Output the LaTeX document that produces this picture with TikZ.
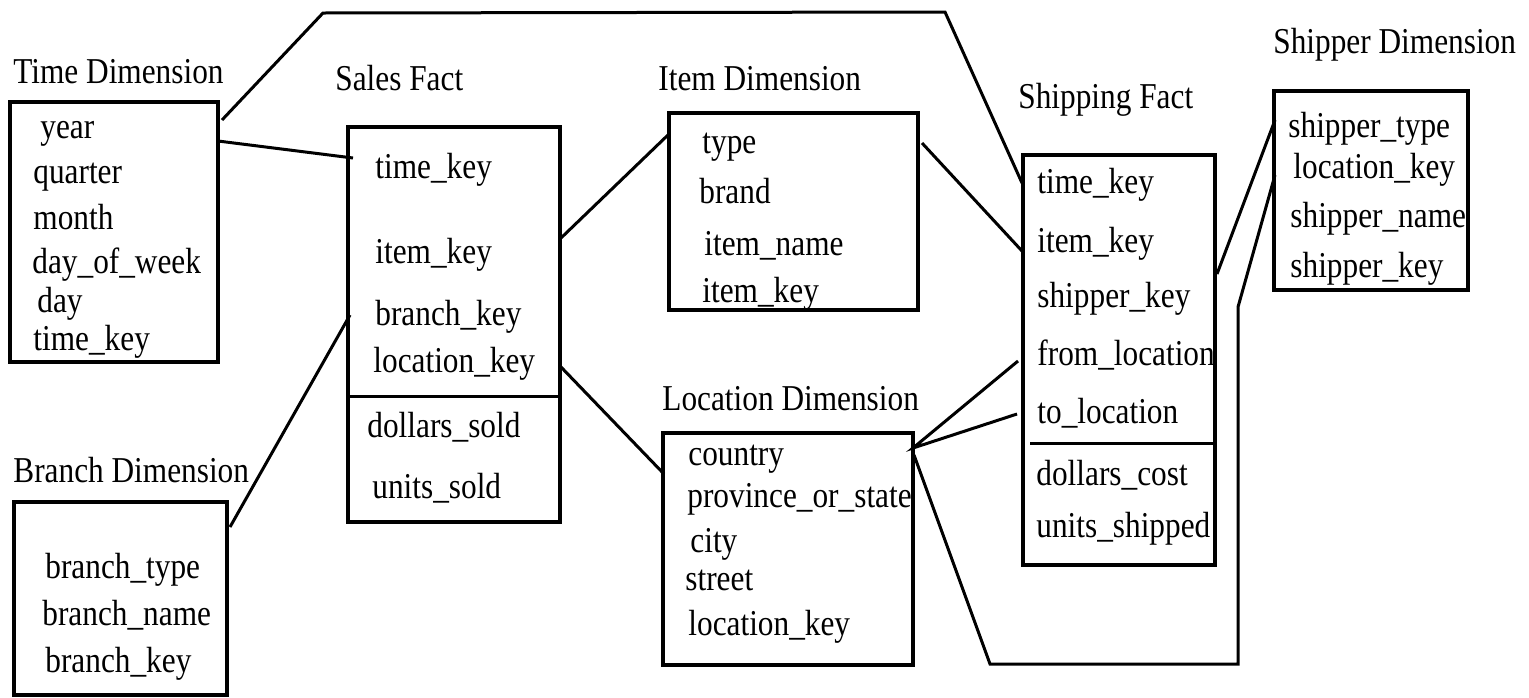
\documentclass[tikz,border=0pt]{standalone}
\usepackage{fontspec}
\setmainfont[FakeStretch=0.86]{Liberation Serif}
\usetikzlibrary{fit}

\tikzset{
  tbl/.style={draw, line width=1.6pt, inner sep=0pt},
  fld/.style={anchor=base west, inner sep=0pt},
  ttl/.style={anchor=base west, inner sep=0pt},
  lnk/.style={line width=1.5pt},
}

\begin{document}
\begin{tikzpicture}[x=0.5pt,y=-0.5pt,font=\fontsize{18.2}{20}\selectfont]
\useasboundingbox (0,0) rectangle (1529,697);

% tables
\node[tbl, fit={(10,102) (218,362)}] (timebox) {};
\node[tbl, fit={(348,127) (560,522)}] (salesbox) {};
\node[tbl, fit={(669,113) (918,310)}] (itembox) {};
\node[tbl, fit={(1023,155) (1215,565)}] (shipbox) {};
\node[tbl, fit={(1274,91) (1468,290)}] (shipperbox) {};
\node[tbl, fit={(14,502) (227,695)}] (branchbox) {};
\node[tbl, fit={(663,433) (913,665)}] (locbox) {};
\draw[lnk] (salesbox.west |- 0,396) -- (salesbox.east |- 0,396);
\draw[lnk] (1030,443) -- (shipbox.east |- 0,443);

% titles
\node[ttl] (timettl) at (13,83) {Time Dimension};
\node[ttl] (salesttl) at (335,90) {Sales Fact};
\node[ttl] (itemttl) at (658,90) {Item Dimension};
\node[ttl] (shipttl) at (1018,108) {Shipping Fact};
\node[ttl] (shipperttl) at (1273,53) {Shipper Dimension};
\node[ttl] (branchttl) at (13,482) {Branch Dimension};
\node[ttl] (locttl) at (662,410) {Location Dimension};

% fields
\node[fld] (tyear) at (40,138) {year};
\node[fld] (tquarter) at (33,183) {quarter};
\node[fld] (tmonth) at (33,229) {month};
\node[fld] (tdow) at (32,273) {day\_of\_week};
\node[fld] (tday) at (37,312) {day};
\node[fld] (tkey) at (33,350) {time\_key};

\node[fld] (stime) at (375,178) {time\_key};
\node[fld] (sitem) at (375,263) {item\_key};
\node[fld] (sbranch) at (375,325) {branch\_key};
\node[fld] (sloc) at (373,372) {location\_key};
\node[fld] (sdollars) at (367,437) {dollars\_sold};
\node[fld] (sunits) at (372,498) {units\_sold};

\node[fld] (itype) at (702,153) {type};
\node[fld] (ibrand) at (699,203) {brand};
\node[fld] (iname) at (704,255) {item\_name};
\node[fld] (ikey) at (702,302) {item\_key};

\node[fld] (htime) at (1037,193) {time\_key};
\node[fld] (hitem) at (1037,252) {item\_key};
\node[fld] (hshipper) at (1037,307) {shipper\_key};
\node[fld] (hfrom) at (1037,365) {from\_location};
\node[fld] (hto) at (1037,423) {to\_location};
\node[fld] (hdollars) at (1036,485) {dollars\_cost};
\node[fld] (hunits) at (1036,537) {units\_shipped};

\node[fld] (ptype) at (1288,137) {shipper\_type};
\node[fld] (ploc) at (1293,178) {location\_key};
\node[fld] (pname) at (1290,227) {shipper\_name};
\node[fld] (pkey) at (1290,277) {shipper\_key};

\node[fld] (btype) at (45,578) {branch\_type};
\node[fld] (bname) at (42,625) {branch\_name};
\node[fld] (bkey) at (45,672) {branch\_key};

\node[fld] (lcountry) at (688,465) {country};
\node[fld] (lprov) at (687,507) {province\_or\_state};
\node[fld] (lcity) at (690,552) {city};
\node[fld] (lstreet) at (685,590) {street};
\node[fld] (lkey) at (688,635) {location\_key};

% link ends
\coordinate (t1) at (222,120); \coordinate (k1) at (323,13);
\coordinate (k2) at (945,12);  \coordinate (s1) at (1022,183);
\coordinate (t2) at (218,141); \coordinate (s2) at (353,158);
\coordinate (b1) at (230,527); \coordinate (s3) at (350,315);
\coordinate (s4) at (561,238); \coordinate (i1) at (669,134);
\coordinate (i2) at (922,143); \coordinate (h1) at (1022,251);
\coordinate (s5) at (561,367); \coordinate (l1) at (664,474);
\coordinate (h2) at (1018,361); \coordinate (l2) at (913,448);
\coordinate (h3) at (1017,414);
\coordinate (h4) at (1217,274); \coordinate (p1) at (1275,120);
\coordinate (l3) at (914,455); \coordinate (k3) at (990,664);
\coordinate (k4) at (1238,664); \coordinate (k5) at (1238,307);
\coordinate (p2) at (1275,175);

% links
\draw[lnk] (t1) -- (k1) -- (k2) -- (s1);
\draw[lnk] (t2) -- (s2);
\draw[lnk] (b1) -- (s3);
\draw[lnk] (s4) -- (i1);
\draw[lnk] (i2) -- (h1);
\draw[lnk] (s5) -- (l1);
\draw[lnk] (h2) -- (l2) -- (h3);
\draw[lnk] (h4) -- (p1);
\draw[lnk] (l3) -- (k3) -- (k4) -- (k5) -- (p2);

\end{tikzpicture}
\end{document}
